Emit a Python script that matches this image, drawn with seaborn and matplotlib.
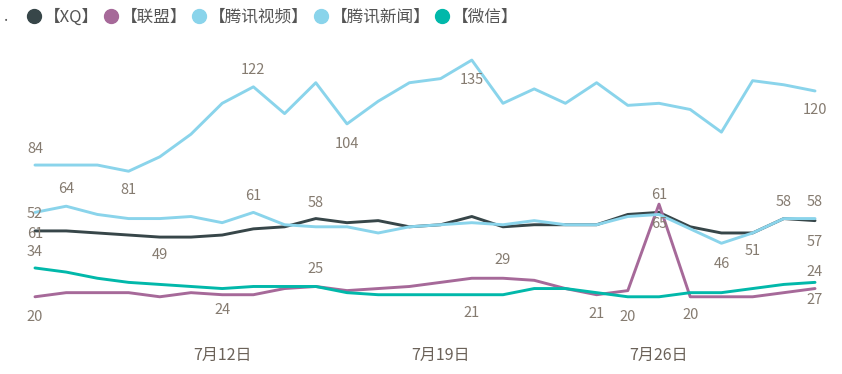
import numpy as np
import matplotlib
matplotlib.use("Agg")
import matplotlib.pyplot as plt
from matplotlib.lines import Line2D
import pandas as pd
import seaborn as sns

# daily values, 7/6 .. 7/31
dates = pd.date_range("2019-07-06", periods=26, freq="D")
xq = [52, 52, 51, 50, 49, 49, 50, 53, 54, 58, 56, 57, 54, 55, 59, 54, 55, 55, 55, 60, 61, 54, 51, 51, 58, 57]
lianmeng = [20, 22, 22, 22, 20, 22, 21, 21, 24, 25, 23, 24, 25, 27, 29, 29, 28, 24, 21, 23, 65, 20, 20, 20, 22, 24]
tx_video = [84, 84, 84, 81, 88, 99, 114, 122, 109, 124, 104, 115, 124, 126, 135, 114, 121, 114, 124, 113, 114, 111, 100, 125, 123, 120]
tx_news = [61, 64, 60, 58, 58, 59, 56, 61, 55, 54, 54, 51, 54, 55, 56, 55, 57, 55, 55, 59, 60, 53, 46, 51, 58, 58]
weixin = [34, 32, 29, 27, 26, 25, 24, 25, 25, 25, 22, 21, 21, 21, 21, 21, 24, 24, 22, 20, 20, 22, 22, 24, 26, 27]

series_names = ["【XQ】", "【联盟】", "【腾讯视频】", "【腾讯新闻】", "【微信】"]
colors = ["#374649", "#A66999", "#8AD4EB", "#8AD4EB", "#01B8AA"]
tick_dates = ["2019-07-12", "2019-07-19", "2019-07-26"]
tick_labels = ["7月12日", "7月19日", "7月26日"]

# which points get a data label (series, day index, offset in px)
labelled = [
    ("【腾讯视频】", 0, 16), ("【腾讯视频】", 3, -19), ("【腾讯视频】", 7, 17),
    ("【腾讯视频】", 10, -20), ("【腾讯视频】", 14, -20), ("【腾讯视频】", 25, -19),
    ("【腾讯新闻】", 0, -22), ("【腾讯新闻】", 1, 17), ("【腾讯新闻】", 7, 16),
    ("【腾讯新闻】", 22, -21), ("【腾讯新闻】", 24, 17), ("【腾讯新闻】", 25, 17),
    ("【XQ】", 0, 17), ("【XQ】", 4, -18), ("【XQ】", 9, 16), ("【XQ】", 20, 17),
    ("【XQ】", 23, -18), ("【XQ】", 25, -21),
    ("【微信】", 0, 16), ("【微信】", 6, -21), ("【微信】", 9, 17), ("【微信】", 14, -18),
    ("【微信】", 19, -20), ("【微信】", 25, -18),
    ("【联盟】", 0, -20), ("【联盟】", 15, 18), ("【联盟】", 18, -19), ("【联盟】", 20, -20),
    ("【联盟】", 21, -18), ("【联盟】", 25, 17),
]

values = [xq, lianmeng, tx_video, tx_news, weixin]
df = pd.concat(
    [pd.DataFrame({"date": dates, "value": v, "series": n}) for n, v in zip(series_names, values)],
    ignore_index=True,
)

sns.set_style("white")
plt.rcParams["font.family"] = ["Noto Sans CJK SC", "DejaVu Sans"]

fig = plt.figure(figsize=(8.42, 3.74), dpi=100)
ax = fig.add_axes([20 / 842, 34 / 374, 810 / 842, 290 / 374])

sns.lineplot(data=df, x="date", y="value", hue="series", hue_order=series_names,
             palette=dict(zip(series_names, colors)), linewidth=2.1, legend=False, ax=ax)

label_color = "#857b70"
for name, i, dy in labelled:
    v = values[series_names.index(name)][i]
    ax.annotate(str(v), (dates[i], v), xytext=(0, dy), textcoords="offset pixels",
                ha="center", va="center", fontsize=10.5, color=label_color)

day = pd.Timedelta(days=1)
ax.set_xlim(dates[0] - 0.48 * day, dates[-1] + 0.48 * day)
ax.set_ylim(-1.0, 139.9)
ax.set_xticks(pd.to_datetime(tick_dates))
ax.set_xticklabels(tick_labels, fontsize=11.5, color="#6b6259")
ax.tick_params(axis="x", length=0, pad=5)
ax.set_yticks([])
ax.set_xlabel("")
ax.set_ylabel("")
sns.despine(ax=ax, left=True, bottom=True)

handles = [Line2D([], [], marker="o", linestyle="", markersize=10, color=c) for c in colors]
fig.text(0.005, 0.955, ".", fontsize=11, color="#555555", va="center")
fig.legend(handles, series_names, loc="center left", bbox_to_anchor=(0.012, 0.955), ncol=5,
           frameon=False, handletextpad=0.05, columnspacing=0.15, handlelength=1.1,
           fontsize=12, labelcolor="#555555")

fig.savefig("out.png", dpi=100)
